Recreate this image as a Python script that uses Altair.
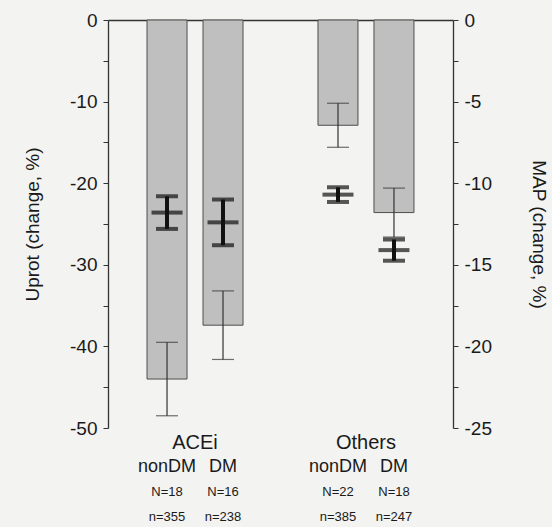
import altair as alt
import pandas as pd

# ---- data ----
groups = ["ACEi", "ACEi", "Others", "Others"]
subgroups = ["nonDM", "DM", "nonDM", "DM"]
N_labels = ["N=18", "N=16", "N=22", "N=18"]
n_labels = ["n=355", "n=238", "n=385", "n=247"]
uprot_mean = [-44.0, -37.4, -12.9, -23.6]
uprot_se = [4.5, 4.2, 2.7, 3.0]
map_mean = [-11.8, -12.4, -10.7, -14.1]
map_se = [1.0, 1.4, 0.45, 0.65]

group_names = ["ACEi", "Others"]
sub_names = ["nonDM", "DM"]
left_ticks = [0, -5, -10, -15, -20, -25, -30, -35, -40, -45, -50]
right_ticks = [0, -2.5, -5, -7.5, -10, -12.5, -15, -17.5, -20, -22.5, -25]

df = pd.DataFrame({
    "group": groups,
    "sub": subgroups,
    "N": N_labels,
    "n": n_labels,
    "u_mean": uprot_mean,
    "u_se": uprot_se,
    "m_mean": map_mean,
    "m_se": map_se,
})
df["u_lo"] = df["u_mean"] - df["u_se"]
df["u_hi"] = df["u_mean"] + df["u_se"]
df["m_lo"] = df["m_mean"] - df["m_se"]
df["m_hi"] = df["m_mean"] + df["m_se"]

gdf = pd.DataFrame({"group": group_names})

FONT = "Liberation Sans"
INK = "#1a1a1a"

xenc = alt.X(
    "group:N",
    scale=alt.Scale(domain=group_names, paddingInner=0.3, paddingOuter=0.159),
    axis=alt.Axis(orient="top", labels=False, ticks=False, title=None,
                  domain=True, domainColor="#333", domainWidth=1.3, grid=False),
)
xoff = alt.XOffset(
    "sub:N",
    scale=alt.Scale(domain=sub_names, paddingInner=0.2857, paddingOuter=0.2116),
)

yleft_scale = alt.Scale(domain=[-50, 0], nice=False, zero=False)
yright_scale = alt.Scale(domain=[-25, 0], nice=False, zero=False)

left_axis = alt.Axis(
    orient="left", values=left_ticks,
    labelExpr="datum.value % 10 == 0 ? '' + datum.value : ''",
    title="Uprot (change, %)", titleX=-76, titleY=204, titleAngle=-90,
    titleAlign="center", titleBaseline="middle",
    titleFont=FONT, titleFontSize=19, titleFontWeight="normal", titleColor=INK,
    labelFont=FONT, labelFontSize=19, labelColor=INK, labelPadding=6,
    tickSize=5, tickColor="#333", domainColor="#333", domainWidth=1.3,
    grid=False,
)
right_axis = alt.Axis(
    orient="right", values=right_ticks,
    labelExpr="datum.value % 5 == 0 ? '' + datum.value : ''",
    title="MAP (change, %)", titleX=85, titleY=214, titleAngle=90,
    titleAlign="center", titleBaseline="middle",
    titleFont=FONT, titleFontSize=19, titleFontWeight="normal", titleColor=INK,
    labelFont=FONT, labelFontSize=19, labelColor=INK, labelPadding=6,
    tickSize=5, tickColor="#333", domainColor="#333", domainWidth=1.3,
    grid=False,
)

base = alt.Chart(df)

bars = base.mark_bar(color="#bfbfbf", stroke="#4d4d4d", strokeWidth=1).encode(
    x=xenc, xOffset=xoff,
    y=alt.Y("u_mean:Q", scale=yleft_scale, axis=left_axis),
)
u_rule = base.mark_rule(color="#333", strokeWidth=1.2).encode(
    x=xenc, xOffset=xoff,
    y=alt.Y("u_lo:Q", scale=yleft_scale, axis=left_axis), y2="u_hi:Q",
)
u_cap_lo = base.mark_tick(color="#333", size=22, thickness=1.2).encode(
    x=xenc, xOffset=xoff, y=alt.Y("u_lo:Q", scale=yleft_scale, axis=left_axis),
)
u_cap_hi = base.mark_tick(color="#333", size=22, thickness=1.2).encode(
    x=xenc, xOffset=xoff, y=alt.Y("u_hi:Q", scale=yleft_scale, axis=left_axis),
)

sub_text = base.mark_text(font=FONT, fontSize=18, color=INK, baseline="middle").encode(
    x=xenc, xOffset=xoff, y=alt.value(447), text="sub:N",
)
N_text = base.mark_text(font=FONT, fontSize=13, color=INK, baseline="middle").encode(
    x=xenc, xOffset=xoff, y=alt.value(472), text="N:N",
)
n_text = base.mark_text(font=FONT, fontSize=13, color=INK, baseline="middle").encode(
    x=xenc, xOffset=xoff, y=alt.value(497), text="n:N",
)
group_text = alt.Chart(gdf).mark_text(font=FONT, fontSize=20, color=INK, baseline="middle").encode(
    x=xenc, y=alt.value(423), text="group:N",
)

left_layer = alt.layer(bars, u_rule, u_cap_lo, u_cap_hi, sub_text, N_text, n_text, group_text)

m_rule = base.mark_rule(color="#111", strokeWidth=4).encode(
    x=xenc, xOffset=xoff,
    y=alt.Y("m_lo:Q", scale=yright_scale, axis=right_axis), y2="m_hi:Q",
)
m_cap_lo = base.mark_tick(color="#111", size=22, thickness=4).encode(
    x=xenc, xOffset=xoff, y=alt.Y("m_lo:Q", scale=yright_scale, axis=right_axis),
)
m_cap_hi = base.mark_tick(color="#111", size=22, thickness=4).encode(
    x=xenc, xOffset=xoff, y=alt.Y("m_hi:Q", scale=yright_scale, axis=right_axis),
)
m_mid = base.mark_tick(color="#111", size=31, thickness=4).encode(
    x=xenc, xOffset=xoff, y=alt.Y("m_mean:Q", scale=yright_scale, axis=right_axis),
)
right_layer = alt.layer(m_rule, m_cap_lo, m_cap_hi, m_mid)

chart = alt.layer(left_layer, right_layer).resolve_scale(y="independent").properties(
    width=345, height=408,
    padding={"left": 108, "top": 20, "right": 99, "bottom": 99},
    autosize=alt.AutoSizeParams(type="none"),
    background="#f3f3f1",
).configure_view(stroke=None)

chart.save("out.html", embed_options={"renderer": "svg", "actions": False})
